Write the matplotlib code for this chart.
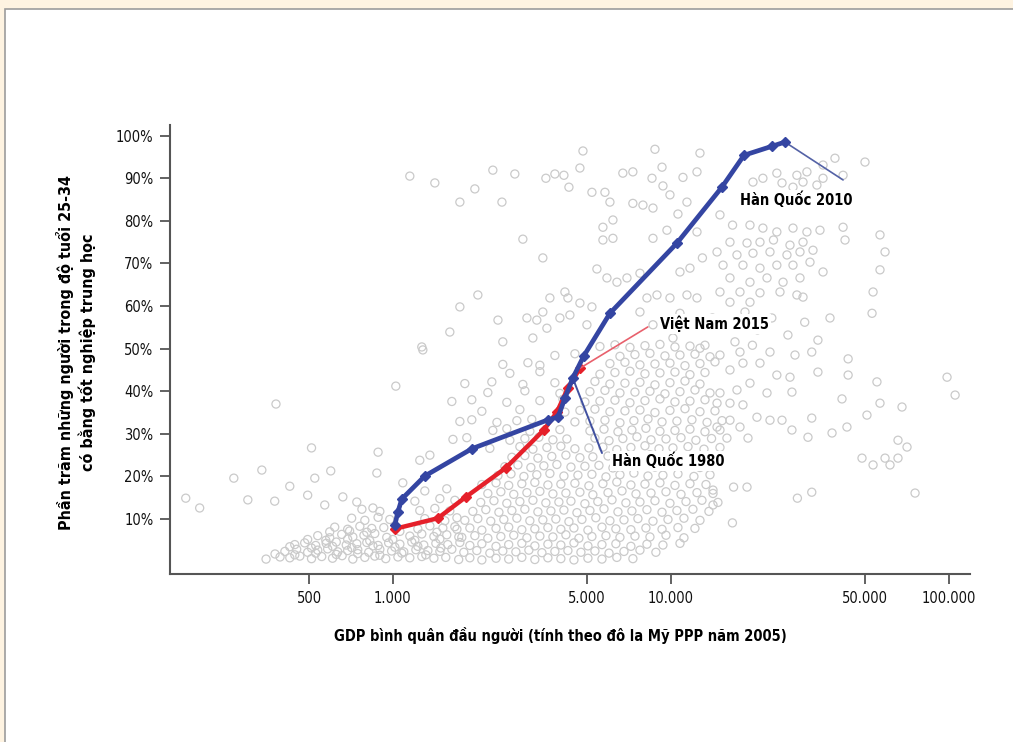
import matplotlib.pyplot as plt
from matplotlib.patches import Rectangle
from matplotlib.ticker import NullLocator

plt.rcParams['font.family'] = ['DejaVu Sans']
plt.rcParams['font.stretch'] = 'condensed'

# Korea path (GDP per capita, share with secondary school)
korea_gdp = [1017, 1042, 1077, 1303, 1923, 3615, 3925, 4158, 4437, 4862,
             6035, 10520, 15250, 18320, 23070, 25700]
korea_pct = [8.6, 11.6, 14.7, 20.1, 26.5, 33.3, 33.9, 38.4, 43.1, 48.3,
             58.3, 74.8, 87.9, 95.4, 97.5, 98.5]

# Vietnam path
vn_gdp = [1017, 1452, 1832, 2547, 3490, 3890, 4258, 4707]
vn_pct = [7.7, 10.2, 15.2, 22.0, 30.9, 35.1, 40.7, 45.4]

xticks = [500, 1000, 5000, 10000, 50000, 100000]
xlabels = ['500', '1.000', '5.000', '10.000', '50.000', '100.000']
yticks = [10, 20, 30, 40, 50, 60, 70, 80, 90, 100]
ylabels = ['%d%%' % v for v in yticks]

# background country-year observations (gdp, pct)
cloud_points = [
    # sparse left
    (180, 14.9), (202, 12.6), (268, 19.6), (301, 14.5), (338, 21.5), (380, 37.0),
    (376, 14.2), (426, 17.7), (494, 15.6), (510, 26.7), (524, 19.6), (569, 13.3),
    (598, 21.3), (661, 15.2), (742, 14.0), (848, 12.6), (876, 20.8), (885, 25.7),
    (1025, 41.2), (1086, 18.5), (1250, 23.8), (1359, 25.0), (1282, 49.7),
    (1151, 90.5), (1416, 88.9), (1271, 50.4),
    # upper middle
    (4827, 96.4), (8762, 96.8), (12720, 95.9), (2289, 91.9), (2746, 91.0),
    (3551, 90.0), (3826, 91.0), (4123, 90.7), (4707, 92.4), (6716, 91.2),
    (7297, 91.5), (9290, 92.6), (11050, 90.2), (12410, 91.5), (1972, 87.5),
    (1742, 84.4), (2468, 84.4), (4298, 87.9), (5199, 86.7), (5791, 86.7),
    (6035, 84.4), (8550, 90.0), (9362, 88.2), (9921, 86.1), (7297, 84.1),
    (7933, 83.7), (8620, 83.0), (11420, 84.4), (10600, 81.6), (6187, 80.2),
    (5695, 78.5), (5695, 75.5), (6187, 75.9), (2935, 75.7), (3463, 71.3),
    (8620, 75.9), (9677, 77.8), (12410, 77.4), (5418, 68.7), (5888, 66.6),
    (6396, 65.6), (6949, 66.6), (7738, 67.7), (10778, 68.0), (11708, 68.9),
    (12980, 71.3), (2022, 62.6), (1742, 59.8), (2388, 56.7), (1603, 53.9),
    (2486, 51.6), (3035, 57.2), (3294, 56.7), (3463, 58.6), (3671, 61.9),
    (4157, 63.3), (4262, 61.9), (3988, 57.2), (4333, 57.9), (4707, 60.7),
    (5199, 59.8), (4988, 55.6), (3581, 54.8), (3188, 52.5), (8200, 61.9),
    (8910, 62.6), (9921, 61.9), (11420, 62.6), (12410, 61.9), (7738, 58.6),
    (8620, 55.6), (10170, 52.5), (11970, 54.8), (10778, 58.3),
    # upper right
    (49880, 93.8), (38900, 94.7), (35240, 93.1), (30840, 91.5), (28380, 90.7),
    (24040, 91.2), (21420, 90.0), (19730, 89.1), (41600, 90.7), (35240, 90.0),
    (33500, 88.4), (29860, 89.1), (27480, 87.9), (25090, 88.9), (41600, 78.5),
    (42280, 75.5), (56480, 76.7), (58890, 72.7), (56480, 68.5), (53330, 63.3),
    (52880, 58.3), (15011, 81.4), (16660, 79.0), (19245, 79.0), (21420, 78.3),
    (24040, 77.4), (27480, 78.3), (30840, 77.4), (34360, 77.8), (16307, 75.0),
    (18780, 74.8), (20907, 75.0), (23380, 75.5), (26804, 74.3), (29860, 75.0),
    (14650, 72.7), (17280, 72.0), (19730, 72.4), (22713, 72.7), (26140, 72.0),
    (29119, 72.7), (32430, 73.1), (15400, 69.6), (18160, 69.6), (20907, 68.9),
    (24040, 69.6), (27480, 69.6), (31633, 70.3), (35240, 68.0), (16307, 66.6),
    (19245, 65.6), (22160, 66.6), (25310, 65.6), (29119, 66.6), (15011, 63.3),
    (17716, 63.3), (20907, 63.1), (24674, 63.3), (28380, 62.6), (19245, 60.9),
    (16307, 60.9), (29860, 62.1),
    (14100, 57.2), (16080, 55.6), (18465, 58.6), (20480, 54.4), (23060, 57.2),
    (26350, 53.2), (30280, 56.2), (33780, 52.0), (16997, 51.6), (19640, 50.8),
    (12720, 50.1), (37330, 57.2),
    # right, lower
    (15011, 48.5), (17716, 49.2), (22713, 49.2), (27939, 48.5), (32100, 49.2),
    (43380, 47.6), (16307, 45.0), (18160, 46.6), (20907, 46.6), (24040, 43.8),
    (26804, 43.3), (33780, 44.5), (43380, 43.8), (55070, 42.2), (98400, 43.3),
    (105200, 39.1), (15011, 39.6), (17280, 40.3), (19245, 41.9), (22160, 39.6),
    (27240, 39.8), (41230, 38.2), (56480, 37.2), (67770, 36.3), (50700, 34.4),
    (14650, 37.2), (16307, 37.2), (18160, 36.8), (20390, 33.9), (22713, 33.2),
    (25090, 33.2), (32100, 33.7), (42960, 31.6), (37970, 30.2), (27240, 30.9),
    (31110, 29.2), (14650, 31.6), (16307, 33.2), (17716, 31.6), (15900, 29.0),
    (18930, 29.0), (65560, 28.5), (70650, 26.9), (48660, 24.3), (53330, 22.7),
    (58890, 24.3), (61360, 22.7), (65560, 24.3), (16800, 17.5), (18780, 17.5),
    (14170, 16.8), (14170, 13.3), (28500, 14.9), (32100, 16.3), (75510, 16.1),
    (16640, 9.1),
    # dense low-income cluster
    (350, 0.6), (393, 1.1), (426, 0.9), (463, 1.3), (510, 0.7), (555, 1.2),
    (607, 0.8), (657, 1.4), (718, 0.6), (793, 1.0), (861, 1.3), (943, 0.7),
    (1043, 1.1), (1151, 0.9), (1271, 1.2), (1405, 0.8), (1550, 1.0),
    (377, 1.8), (444, 1.6), (528, 2.0), (626, 1.7), (748, 1.9), (898, 1.5),
    (1077, 2.0), (1314, 1.6),
    (409, 2.4), (451, 2.9), (494, 2.2), (537, 2.7), (583, 3.0), (634, 2.3),
    (688, 2.6), (748, 2.8), (819, 2.2), (898, 2.9), (990, 2.5), (1095, 2.3),
    (1210, 2.8), (1337, 2.6), (1476, 2.4), (1630, 2.9),
    (426, 3.5), (510, 3.2), (607, 3.6), (711, 3.3), (848, 3.7), (1017, 3.4),
    (1230, 3.6), (1488, 3.2),
    (444, 4.0), (482, 4.4), (528, 3.8), (576, 4.3), (626, 4.6), (680, 3.9),
    (742, 4.2), (806, 4.5), (885, 3.8), (966, 4.4), (1060, 4.1), (1170, 4.6),
    (1292, 3.9), (1428, 4.3), (1576, 4.0), (1742, 4.5),
    (494, 5.2), (574, 5.0), (688, 5.3), (826, 4.9), (1000, 5.2), (1200, 5.0),
    (1476, 5.3),
    (537, 6.1), (593, 5.6), (655, 6.4), (718, 5.8), (787, 6.2), (861, 6.6),
    (951, 5.7), (1151, 6.0), (1271, 6.5), (1405, 5.9), (1563, 6.3), (1727, 5.8),
    (593, 7.0), (699, 7.2), (806, 6.9), (1060, 7.1), (1440, 6.9),
    (618, 8.1), (688, 7.6), (761, 8.3), (840, 7.8), (928, 8.0), (1230, 7.7),
    (1359, 8.4), (1513, 7.9), (1671, 8.2),
    (711, 10.2), (793, 9.7), (885, 10.4), (975, 9.9), (1303, 10.1), (1538, 9.6),
    (1700, 10.3), (774, 12.3), (898, 11.8), (1250, 12.0), (1416, 12.5),
    (1603, 11.9), (1200, 14.2), (1476, 14.8), (1671, 14.4), (1303, 16.6),
    (1563, 17.1),
    # dense middle band
    (1725, 0.5), (1892, 0.9), (2090, 0.4), (2350, 0.8), (2610, 0.6), (2910, 1.0),
    (3241, 0.5), (3611, 0.9), (4020, 0.7), (4480, 0.4), (5030, 0.8), (5650, 0.6),
    (6390, 1.0), (7300, 0.7),
    (1800, 2.2), (2005, 2.6), (2233, 2.0), (2486, 2.5), (2770, 2.3), (3085, 2.7),
    (3437, 2.1), (3826, 2.4), (4262, 2.6), (4747, 2.2), (5330, 2.5), (5990, 2.0),
    (6780, 2.4), (7738, 2.7), (8830, 2.2),
    (1892, 3.8), (2090, 4.2), (2350, 3.6), (2610, 4.0), (2910, 4.3), (3241, 3.7),
    (3611, 4.1), (4020, 3.9), (4480, 4.4), (5030, 3.7), (5650, 4.0), (6340, 4.2),
    (7180, 3.6), (8200, 4.1), (9360, 3.9), (10780, 4.3),
    (1770, 5.7), (1972, 6.1), (2196, 5.5), (2446, 5.9), (2722, 6.2), (3035, 5.6),
    (3379, 6.0), (3764, 5.8), (4192, 6.3), (4668, 5.5), (5199, 5.9), (5840, 6.1),
    (6557, 5.7), (7424, 6.0), (8406, 5.8), (9600, 6.2), (11140, 5.6),
    (1700, 7.6), (1892, 7.9), (2090, 7.4), (2350, 7.8), (2610, 8.1), (2910, 7.5),
    (3241, 7.7), (3611, 8.0), (4020, 7.6), (4480, 7.9), (5030, 7.4), (5650, 8.1),
    (6340, 7.7), (7180, 7.5), (8130, 7.9), (9290, 7.6), (10600, 8.0), (12200, 7.8),
    (1815, 9.7), (2022, 10.1), (2250, 9.5), (2507, 9.9), (2793, 10.2), (3110, 9.6),
    (3463, 9.8), (3857, 10.0), (4298, 9.4), (4787, 9.9), (5370, 10.3), (6035, 9.6),
    (6780, 9.8), (7610, 10.1), (8620, 9.5), (9760, 9.9), (11140, 10.2), (12720, 9.7),
    (1940, 11.8), (2160, 12.2), (2407, 11.6), (2680, 12.0), (2984, 12.3), (3324, 11.7),
    (3702, 11.9), (4123, 12.1), (4593, 11.5), (5114, 12.0), (5745, 12.4), (6450, 11.7),
    (7240, 11.9), (8200, 12.2), (9290, 11.6), (10510, 12.0), (12000, 12.3), (13700, 11.8),
    (2070, 13.9), (2310, 14.3), (2570, 13.7), (2863, 14.1), (3190, 14.4), (3551, 13.8),
    (3955, 14.0), (4370, 14.2), (4906, 13.6), (5460, 14.1), (6140, 14.5), (6890, 13.8),
    (7738, 14.0), (8762, 14.3), (9921, 13.7), (11330, 14.1), (12930, 14.4), (14760, 13.9),
    (2196, 16.0), (2446, 16.4), (2722, 15.8), (3035, 16.2), (3379, 16.5), (3764, 15.9),
    (4192, 16.1), (4707, 16.3), (5240, 15.7), (5940, 16.2), (6670, 16.6), (7490, 15.9),
    (8480, 16.1), (9600, 16.4), (10870, 15.8), (12410, 16.2), (14170, 16.0),
    (2090, 18.1), (2350, 18.5), (2610, 17.9), (2910, 18.3), (3241, 18.6), (3611, 18.0),
    (4020, 18.2), (4516, 18.4), (5070, 17.8), (5695, 18.3), (6390, 18.7), (7180, 18.0),
    (8066, 18.2), (9132, 18.5), (10340, 17.9), (11708, 18.3), (13370, 18.1),
    (2388, 20.2), (2660, 20.6), (2960, 20.0), (3294, 20.4), (3671, 20.7), (4123, 20.1),
    (4630, 20.3), (5199, 20.5), (5840, 19.9), (6557, 20.4), (7360, 20.8), (8270, 20.1),
    (9360, 20.3), (10600, 20.6), (12100, 20.0), (13820, 20.4),
    (2528, 22.3), (2817, 22.7), (3136, 22.1), (3492, 22.5), (3890, 22.8), (4370, 22.2),
    (4906, 22.4), (5510, 22.6), (6187, 22.0), (6949, 22.5), (7800, 22.9), (8762, 22.2),
    (9921, 22.4), (11234, 22.7), (12720, 22.1),
    (2680, 24.5), (2984, 24.9), (3324, 24.3), (3730, 24.7), (4192, 25.0), (4707, 24.4),
    (5240, 24.6), (5940, 24.8), (6670, 24.2), (7490, 24.7), (8406, 25.1), (9518, 24.4),
    (10778, 24.6), (12203, 24.9),
    (2233, 26.6), (2863, 27.0), (3190, 26.4), (3581, 26.8), (4020, 27.1), (4516, 26.5),
    (5070, 26.7), (5695, 26.9), (6390, 26.3), (7180, 26.8), (8066, 27.2), (9060, 26.5),
    (10170, 26.7), (11520, 27.0), (13150, 26.4), (15011, 26.8),
    (1645, 28.7), (1845, 29.1), (2635, 28.5), (2984, 28.9), (3350, 29.2), (3764, 28.6),
    (4225, 28.8), (5330, 29.0), (5990, 28.4), (6716, 28.9), (7550, 29.3), (8480, 28.6),
    (9600, 28.8), (10870, 29.1), (12300, 28.5), (14000, 28.9),
    (2289, 30.8), (2570, 31.2), (3110, 30.6), (3988, 31.0), (5114, 30.7), (5745, 31.1),
    (6450, 30.5), (7240, 30.9), (8130, 31.3), (9132, 30.6), (10340, 30.8), (11708, 31.1),
    (13258, 30.5), (15011, 30.9),
    (1742, 32.9), (1923, 33.3), (2368, 32.7), (2793, 33.1), (3160, 33.4), (4516, 32.8),
    (5114, 33.0), (5791, 33.2), (6557, 32.6), (7360, 33.1), (8270, 33.5), (9290, 32.8),
    (10510, 33.0), (11900, 33.3), (13490, 32.7), (15270, 33.1),
    (2090, 35.3), (2863, 35.7), (4157, 35.1), (4707, 35.5), (5330, 35.8), (6035, 35.2),
    (6834, 35.4), (7738, 35.6), (8762, 35.0), (9921, 35.5), (11234, 35.9), (12720, 35.2),
    (14403, 35.4),
    (1630, 37.6), (1923, 38.0), (2570, 37.4), (3379, 37.8), (4090, 38.1), (4906, 37.5),
    (5556, 37.7), (6291, 37.9), (7123, 37.3), (8066, 37.8), (9132, 38.2), (10340, 37.5),
    (11708, 37.7), (13258, 38.0),
    (2196, 39.7), (2984, 40.1), (3988, 39.5), (5114, 39.9), (5791, 40.2), (6557, 39.6),
    (7424, 39.8), (8406, 40.0), (9518, 39.4), (10778, 39.9), (12203, 40.3), (13818, 39.6),
    (1815, 41.8), (2270, 42.2), (2935, 41.6), (3826, 42.0), (5330, 42.3), (6035, 41.7),
    (6834, 41.9), (7738, 42.1), (8762, 41.5), (9921, 42.0), (11234, 42.4), (12720, 41.7),
    (2635, 44.2), (3379, 44.6), (5556, 44.0), (6291, 44.4), (7123, 44.7), (8066, 44.1),
    (9132, 44.3), (10340, 44.5), (11708, 43.9), (13258, 44.4),
    (2486, 46.3), (3060, 46.7), (3379, 46.1), (6035, 46.5), (6834, 46.8), (7738, 46.2),
    (8762, 46.4), (9921, 46.6), (11234, 46.0), (12720, 46.5), (14403, 46.9),
    (3826, 48.4), (4516, 48.8), (6557, 48.2), (7424, 48.6), (8406, 48.9), (9518, 48.3),
    (10778, 48.5), (12203, 48.7), (13818, 48.1),
    (5556, 50.5), (6291, 50.9), (7123, 50.3), (8066, 50.7), (9132, 51.0), (10340, 50.4),
    (11708, 50.6), (13258, 50.8),
]

cloud_gdp = [p[0] for p in cloud_points]
cloud_pct = [p[1] for p in cloud_points]

W, H = 1013, 742
fig = plt.figure(figsize=(W / 100, H / 100), dpi=100)
fig.patch.set_facecolor('#fef3e1')
# white panel with grey frame
fig.add_artist(Rectangle((5 / W, -0.1), 1.2, 1.1 - 9 / H, transform=fig.transFigure,
                         facecolor='white', edgecolor='#9c9c9c', lw=1.2, zorder=-1))

ax = fig.add_axes([170 / W, 1 - 574 / H, 800 / W, 449 / H])
ax.set_facecolor('none')
ax.set_xscale('log')
ax.set_xlim(158, 119000)
ax.set_ylim(-2.9, 102.5)

ax.scatter(cloud_gdp, cloud_pct, s=34, facecolors='none', edgecolors='#cacaca',
           linewidths=0.9, zorder=1)

ax.plot(vn_gdp, vn_pct, color='#e5202a', lw=3.2, marker='D', ms=5, zorder=3)
ax.plot(korea_gdp, korea_pct, color='#3445a2', lw=3.4, marker='D', ms=5, zorder=4)

# leader lines
ax.annotate('', xy=(korea_gdp[-1], korea_pct[-1]), xytext=(41600, 89.6),
            arrowprops=dict(arrowstyle='-', color='#5462a6', lw=1.2, shrinkA=0, shrinkB=0))
ax.annotate('', xy=(vn_gdp[-1], vn_pct[-1]), xytext=(8260, 55.1),
            arrowprops=dict(arrowstyle='-', color='#e8606c', lw=1.2, shrinkA=0, shrinkB=0))
ax.annotate('', xy=(4437, 43.1), xytext=(5650, 25.5),
            arrowprops=dict(arrowstyle='-', color='#4050a0', lw=1.4, shrinkA=0, shrinkB=0))

lab = dict(fontsize=10.5, fontweight='bold', va='center', ha='left', zorder=5,
           bbox=dict(facecolor='white', edgecolor='none', pad=1.5))
ax.text(17700, 84.9, 'Hàn Quốc 2010', **lab)
ax.text(9130, 55.8, 'Việt Nam 2015', **lab)
ax.text(6140, 23.6, 'Hàn Quốc 1980', **lab)

ax.set_xticks(xticks)
ax.set_xticklabels(xlabels)
ax.xaxis.set_minor_locator(NullLocator())
ax.set_yticks(yticks)
ax.set_yticklabels(ylabels)
ax.tick_params(direction='out', length=7, width=1.3, color='#555555',
               labelsize=10.5, pad=5, labelcolor='#111111')
for s in ['top', 'right']:
    ax.spines[s].set_visible(False)
for s in ['left', 'bottom']:
    ax.spines[s].set_color('#555555')
    ax.spines[s].set_linewidth(1.5)

fig.text(76 / W, 1 - 352 / H,
         'Phần trăm những người trong độ tuổi 25-34\ncó bằng tốt nghiệp trung học',
         rotation=90, ha='center', va='center', fontsize=11.5, fontweight='bold',
         linespacing=1.25)
fig.text(560 / W, 1 - 635 / H,
         'GDP bình quân đầu người (tính theo đô la Mỹ PPP năm 2005)',
         ha='center', va='center', fontsize=10.5, fontweight='bold')

fig.savefig('out.png', dpi=100)
